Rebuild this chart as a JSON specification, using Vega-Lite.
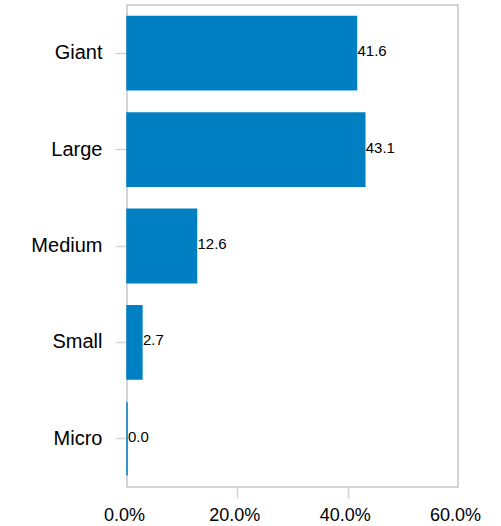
{
  "$schema": "https://vega.github.io/schema/vega-lite/v6.json",
  "autosize": "none",
  "width": 331,
  "height": 482,
  "padding": {"left": 127, "top": 5, "right": 43, "bottom": 39},
  "background": "white",
  "config": {
    "font": "Liberation Sans",
    "view": {"stroke": "#d4d4d4", "strokeWidth": 2}
  },
  "data": {
    "values": [
      {"size": "Giant", "share": 41.6},
      {"size": "Large", "share": 43.1},
      {"size": "Medium", "share": 12.6},
      {"size": "Small", "share": 2.7},
      {"size": "Micro", "share": 0.0}
    ]
  },
  "encoding": {
    "y": {
      "field": "size",
      "type": "nominal",
      "sort": ["Giant", "Large", "Medium", "Small", "Micro"],
      "scale": {"paddingInner": 0.24, "paddingOuter": 0.12},
      "axis": {
        "title": null,
        "domain": false,
        "ticks": true,
        "tickSize": 12,
        "tickColor": "#d4d4d4",
        "tickWidth": 1.5,
        "labelPadding": 13,
        "labelFontSize": 20,
        "labelColor": "#000000",
        "labelFont": "Liberation Sans"
      }
    },
    "x": {
      "field": "share",
      "type": "quantitative",
      "scale": {"domain": [0, 60], "nice": false},
      "axis": {
        "title": null,
        "domain": false,
        "grid": false,
        "values": [0, 20, 40, 60],
        "tickSize": 11,
        "tickWidth": 1.5,
        "tickColor": "#d4d4d4",
        "tickOpacity": {"condition": {"test": "datum.value == 0 || datum.value == 60", "value": 0}, "value": 1},
        "labelExpr": "format(datum.value, '.1f') + '%'",
        "labelFontSize": 18,
        "labelColor": "#000000",
        "labelPadding": 8,
        "labelOffset": -3,
        "labelFlush": false,
        "labelFont": "Liberation Sans"
      }
    }
  },
  "layer": [
    {
      "mark": {"type": "bar", "color": "#0080c2", "stroke": "#0080c2", "strokeWidth": 1.5}
    },
    {
      "mark": {"type": "text", "align": "left", "baseline": "middle", "dx": 1, "dy": -2, "fontSize": 15, "color": "#000000", "font": "Liberation Sans"},
      "encoding": {
        "text": {"field": "share", "type": "quantitative", "format": ".1f"}
      }
    }
  ]
}
